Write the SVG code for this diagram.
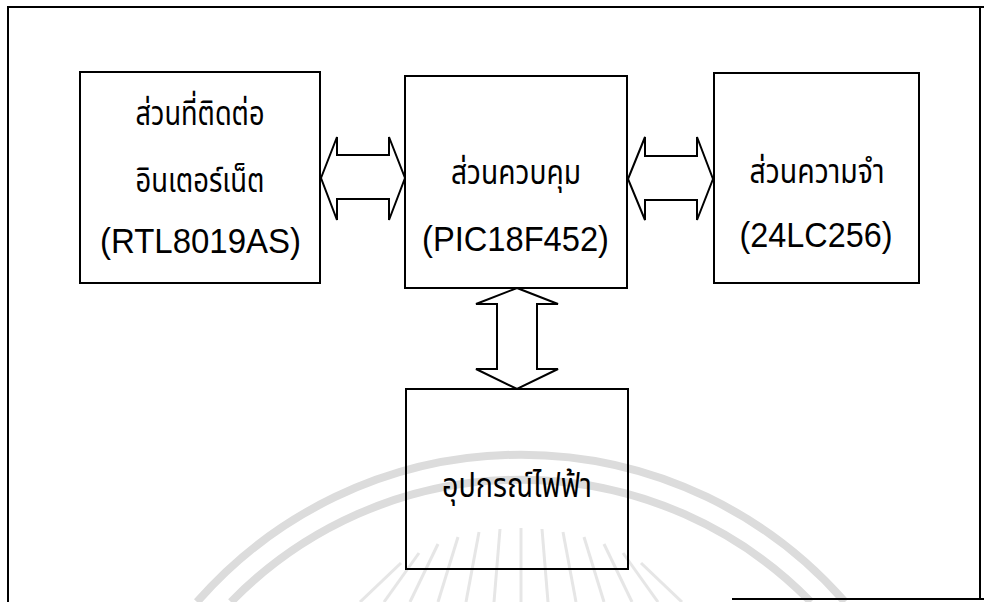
<svg xmlns="http://www.w3.org/2000/svg" width="984" height="602" viewBox="0 0 984 602">
<style>
.box{fill:none;stroke:#000;stroke-width:2}
.arrow{fill:#fff;stroke:#000;stroke-width:2;stroke-linejoin:miter}
.lat{font-family:"Liberation Sans",Arial,sans-serif;font-size:35px;fill:#000;text-anchor:middle}
.th{font-family:"Noto Sans Thai","Noto Sans","DejaVu Sans",sans-serif;font-size:34px;font-weight:normal;fill:#000;text-anchor:middle}
.wm{fill:none;stroke:#dcdcdc;stroke-width:8}
.ray{fill:none;stroke:#e6e6e6;stroke-width:3}
.frame{fill:none;stroke:#000;stroke-width:2}
</style>
<rect x="0" y="0" width="984" height="602" fill="#fff"/>
<g id="watermark">
<path class="wm" d="M197,602 A430,430 0 0 1 845,602"/>
<path class="wm" d="M231,602 A405,405 0 0 1 811,602"/>
<g class="ray">
<line x1="521" y1="528" x2="521" y2="602"/>
<line x1="500" y1="529" x2="494" y2="602"/>
<line x1="542" y1="529" x2="548" y2="602"/>
<line x1="479" y1="532" x2="466" y2="602"/>
<line x1="563" y1="532" x2="576" y2="602"/>
<line x1="458" y1="537" x2="438" y2="602"/>
<line x1="584" y1="537" x2="604" y2="602"/>
<line x1="438" y1="544" x2="410" y2="602"/>
<line x1="604" y1="544" x2="632" y2="602"/>
<line x1="419" y1="553" x2="384" y2="602"/>
<line x1="623" y1="553" x2="658" y2="602"/>
<line x1="401" y1="563" x2="360" y2="602"/>
<line x1="641" y1="563" x2="682" y2="602"/>
</g>
</g>
<g id="frame">
<line class="frame" x1="8" y1="7" x2="984" y2="7"/>
<line class="frame" x1="8" y1="6" x2="8" y2="602"/>
<line class="frame" x1="980" y1="7" x2="980" y2="599"/>
<line class="frame" x1="732" y1="599" x2="984" y2="599"/>
</g>
<g id="connectors">
<polygon class="arrow" points="321,178 337,137 337,155 389,155 389,137 405,178 389,220 389,199 337,199 337,220"/>
<polygon class="arrow" points="628,179 645,137 645,156 697,156 697,137 713,179 697,220 697,200 645,200 645,220"/>
<polygon class="arrow" points="517,288 558,304 537,304 537,369 558,369 517,389 476,369 497,369 497,304 476,304"/>
</g>
<g id="node-network">
<rect class="box" x="80" y="72" width="240" height="211"/>
<text class="th" x="200" y="125" textLength="129" lengthAdjust="spacingAndGlyphs">ส่วนที่ติดต่อ</text>
<text class="th" x="200" y="192" textLength="129" lengthAdjust="spacingAndGlyphs">อินเตอร์เน็ต</text>
<text class="lat" x="200.5" y="253" textLength="201" lengthAdjust="spacingAndGlyphs">(RTL8019AS)</text>
</g>
<g id="node-control">
<rect class="box" x="405" y="76" width="222" height="212"/>
<text class="th" x="516" y="184" textLength="130" lengthAdjust="spacingAndGlyphs">ส่วนควบคุม</text>
<text class="lat" x="515.5" y="251" textLength="187" lengthAdjust="spacingAndGlyphs">(PIC18F452)</text>
</g>
<g id="node-memory">
<rect class="box" x="714" y="73" width="205" height="210"/>
<text class="th" x="817" y="183" textLength="135" lengthAdjust="spacingAndGlyphs">ส่วนความจำ</text>
<text class="lat" x="816" y="247" textLength="153" lengthAdjust="spacingAndGlyphs">(24LC256)</text>
</g>
<g id="node-appliance">
<rect class="box" x="406" y="389" width="222" height="180"/>
<text class="th" x="517" y="497" textLength="150" lengthAdjust="spacingAndGlyphs">อุปกรณ์ไฟฟ้า</text>
</g>
</svg>
